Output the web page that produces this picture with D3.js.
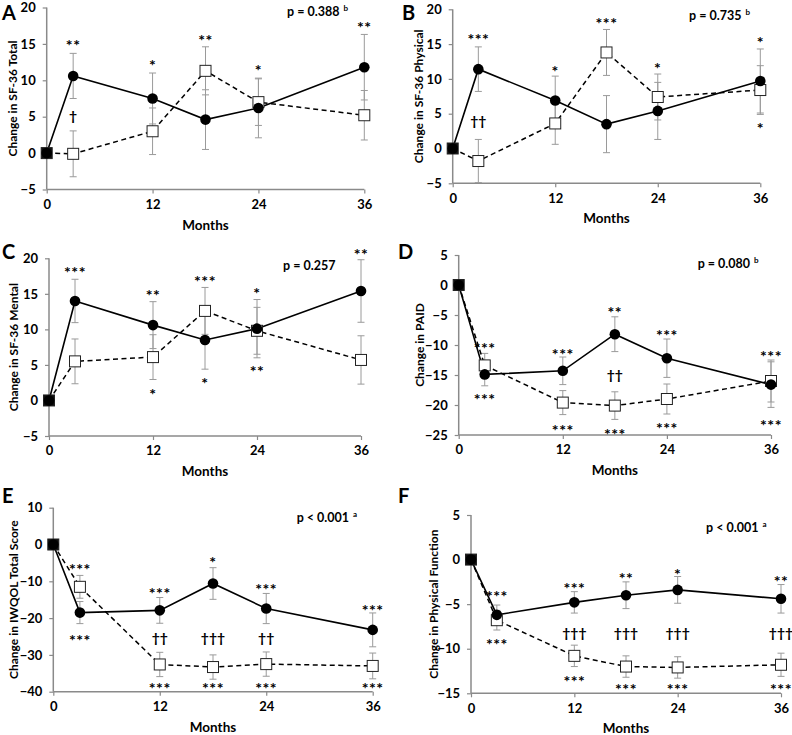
<!DOCTYPE html>
<html><head><meta charset="utf-8">
<script src="https://cdn.jsdelivr.net/npm/d3@7"></script>
<style>
html,body{margin:0;padding:0;background:#fff;}
svg{display:block;}
text{font-family:Lato,"Open Sans",sans-serif;font-weight:bold;fill:#000;}
</style></head>
<body>
<svg id="chart" width="792" height="735"></svg>
<script>
// ---------- DATA ----------
const months = [0, 3, 12, 18, 24, 36];
const xTicks = [0, 12, 24, 36];

const aSolid = [0, 10.6, 7.5, 4.6, 6.2, 11.8];
const aSolidErr = [0, 3.1, 3.5, 4.1, 4.1, 4.5];
const aDashed = [0, -0.1, 3.0, 11.3, 7.0, 5.2];
const aDashedErr = [0, 3.15, 3.2, 3.3, 3.2, 3.4];
const aTicks = [-5, 0, 5, 10, 15, 20];
const aNotes = [[3, 15.3, "**"], [3, 5, "†"], [12, 12.5, "*"], [18, 16, "**"], [24, 11.8, "*"], [36, 17.7, "**"]];

const bSolid = [0, 11.4, 6.9, 3.5, 5.4, 9.7];
const bSolidErr = [0, 3.2, 3.5, 4.1, 4.1, 4.6];
const bDashed = [0, -1.8, 3.6, 13.8, 7.4, 8.4];
const bDashedErr = [0, 3.1, 3.0, 3.3, 3.3, 3.5];
const bTicks = [-5, 0, 5, 10, 15, 20];
const bNotes = [[3, 16.2, "***"], [3, 3.9, "††"], [12, 11.5, "*"], [18, 18.4, "***"], [24, 12, "*"], [36, 15.7, "*"], [36, 3.4, "*"]];

const cSolid = [0, 14.0, 10.6, 8.5, 10.1, 15.4];
const cSolidErr = [0, 3.05, 3.3, 4.1, 4.1, 4.4];
const cDashed = [0, 5.5, 6.1, 12.6, 9.8, 5.7];
const cDashedErr = [0, 3.15, 3.15, 3.3, 3.3, 3.4];
const cTicks = [-5, 0, 5, 10, 15, 20];
const cNotes = [[3, 18.5, "***"], [12, 15.2, "**"], [12, 1.4, "*"], [18, 17.2, "***"], [18, 2.9, "*"], [24, 15.6, "*"], [24, 4.5, "**"], [36, 21, "**"]];

const dSolid = [0, -14.9, -14.3, -8.2, -12.2, -16.6];
const dSolidErr = [0, 1.9, 2.3, 2.9, 3.2, 3.8];
const dDashed = [0, -13.4, -19.6, -20.1, -19.0, -16.0];
const dDashedErr = [0, 2.0, 2.0, 2.3, 2.5, 3.5];
const dTicks = [-25, -20, -15, -10, -5, 0, 5];
const dNotes = [[3, -10, "***"], [3, -18.5, "***"], [12, -11, "***"], [12, -23.7, "***"], [18, -4, "**"], [18, -15, "††"], [18, -24.3, "***"], [24, -7.9, "***"], [24, -23.3, "***"], [36, -11.3, "***"], [36, -22.8, "***"]];

const eSolid = [0, -18.5, -17.9, -10.6, -17.4, -23.2];
const eSolidErr = [0, 3.0, 3.5, 4.3, 4.1, 4.6];
const eDashed = [0, -11.5, -32.6, -33.3, -32.5, -33.0];
const eDashedErr = [0, 3.1, 3.3, 3.3, 3.3, 3.5];
const eTicks = [-40, -30, -20, -10, 0, 10];
const eNotes = [[3, -5.8, "***"], [3, -25, "***"], [12, -12.4, "***"], [12, -25.5, "††"], [12, -38.2, "***"], [18, -3.9, "*"], [18, -25.5, "†††"], [18, -38.2, "***"], [24, -11.2, "***"], [24, -25.5, "††"], [24, -38.2, "***"], [36, -16.9, "***"], [36, -38.2, "***"]];

const fSolid = [0, -6.2, -4.8, -4.0, -3.4, -4.4];
const fSolidErr = [0, 1.1, 1.2, 1.5, 1.5, 1.6];
const fDashed = [0, -6.8, -10.8, -12.0, -12.1, -11.8];
const fDashedErr = [0, 1.1, 1.2, 1.2, 1.2, 1.3];
const fTicks = [-15, -10, -5, 0, 5];
const fNotes = [[3, -3.7, "***"], [3, -9.1, "***"], [12, -2.8, "***"], [12, -8.3, "†††"], [12, -13.3, "***"], [18, -1.7, "**"], [18, -8.3, "†††"], [18, -14.2, "***"], [24, -1.3, "*"], [24, -8.3, "†††"], [24, -14.2, "***"], [36, -2.1, "**"], [36, -8.3, "†††"], [36, -14.2, "***"]];

const panelLetters = ["A", "B", "C", "D", "E", "F"];
const yTitles = ["Change in SF-36 Total", "Change in SF-36 Physical", "Change in SF-36 Mental", "Change in PAID", "Change in IWQOL Total Score", "Change in Physical Function"];
const pTexts = ["p = 0.388", "p = 0.735", "p = 0.257", "p = 0.080", "p < 0.001", "p < 0.001"];
const pSups = ["b", "b", "", "b", "a", "a"];
const xTitle = "Months";

// ---------- LAYOUT ----------
const layout = [
  {x0: 46.7, x1: 364.3, yTop: 7.5, yBot: 189.5, letter: [2, 20], ytx: 12, p: [287, 16]},
  {x0: 452.7, x1: 760.3, yTop: 9.3, yBot: 183.3, letter: [402, 20], ytx: 418, p: [689, 19.5]},
  {x0: 49, x1: 361, yTop: 258.3, yBot: 436, letter: [2, 259], ytx: 13, p: [283, 270]},
  {x0: 458.7, x1: 771, yTop: 255, yBot: 435, letter: [398, 259], ytx: 419, p: [697.7, 267.5]},
  {x0: 53.3, x1: 372.7, yTop: 507.7, yBot: 691.7, letter: [2, 503], ytx: 13, p: [296.7, 522]},
  {x0: 471, x1: 781, yTop: 515, yBot: 693.3, letter: [398, 503], ytx: 433, p: [706, 532]}
];

const panels = [
  {s: aSolid, se: aSolidErr, d: aDashed, de: aDashedErr, ticks: aTicks, notes: aNotes},
  {s: bSolid, se: bSolidErr, d: bDashed, de: bDashedErr, ticks: bTicks, notes: bNotes},
  {s: cSolid, se: cSolidErr, d: cDashed, de: cDashedErr, ticks: cTicks, notes: cNotes},
  {s: dSolid, se: dSolidErr, d: dDashed, de: dDashedErr, ticks: dTicks, notes: dNotes},
  {s: eSolid, se: eSolidErr, d: eDashed, de: eDashedErr, ticks: eTicks, notes: eNotes},
  {s: fSolid, se: fSolidErr, d: fDashed, de: fDashedErr, ticks: fTicks, notes: fNotes}
];

const svg = d3.select("#chart");
const axisColor = "#8a8a8a";
const errColor = "#9a9a9a";

panels.forEach((P, i) => {
  const L = layout[i];
  const g = svg.append("g");
  const x = d3.scaleLinear().domain([0, 36]).range([L.x0, L.x1]);
  const y = d3.scaleLinear().domain([d3.min(P.ticks), d3.max(P.ticks)]).range([L.yBot, L.yTop]);

  // axes
  const yAxis = g.append("g").attr("transform", `translate(${L.x0},0)`)
    .call(d3.axisLeft(y).tickValues(P.ticks).tickSize(4).tickPadding(7).tickFormat(d3.format("d")));
  const xAxis = g.append("g").attr("transform", `translate(0,${L.yBot})`)
    .call(d3.axisBottom(x).tickValues(xTicks).tickSize(4).tickPadding(6).tickFormat(d3.format("d")));
  [yAxis, xAxis].forEach(ax => {
    ax.select(".domain").attr("stroke", axisColor).attr("stroke-width", 1.5);
    ax.selectAll(".tick line").attr("stroke", axisColor).attr("stroke-width", 1.2);
    ax.selectAll(".tick text").attr("font-size", 13).attr("font-family", "Lato, sans-serif").attr("font-weight", "bold").attr("fill", "#000");
  });
  xAxis.select(".domain").attr("d", `M${L.x0},0H${L.x1}`);
  yAxis.select(".domain").attr("d", `M0,${L.yBot}V${L.yTop}`);

  // axis titles
  g.append("text").attr("x", (L.x0 + L.x1) / 2).attr("y", L.yBot + 40)
    .attr("text-anchor", "middle").attr("font-size", 13.5).text(xTitle);
  g.append("text").attr("transform", `translate(${L.ytx},${(L.yTop + L.yBot) / 2}) rotate(-90)`)
    .attr("text-anchor", "middle").attr("dominant-baseline", "central").attr("font-size", 12).text(yTitles[i]);

  // panel letter
  g.append("text").attr("x", L.letter[0]).attr("y", L.letter[1])
    .attr("font-family", "Liberation Sans, Arial, sans-serif").attr("font-size", 20).attr("font-weight", "bold")
    .text(panelLetters[i]);

  // p value
  const pt = g.append("text").attr("x", L.p[0]).attr("y", L.p[1]).attr("font-size", 12.5).text(pTexts[i]);
  if (pSups[i]) pt.append("tspan").attr("dx", 4).attr("dy", -5).attr("font-size", 8).text(pSups[i]);

  // error bars
  const errs = [];
  months.forEach((m, k) => {
    if (k === 0) return;
    errs.push({m, v: P.s[k], e: P.se[k]});
    errs.push({m, v: P.d[k], e: P.de[k]});
  });
  const eg = g.append("g").attr("stroke", errColor).attr("stroke-width", 1);
  errs.forEach(o => {
    const lo = Math.max(o.v - o.e, d3.min(P.ticks));
    const hi = o.v + o.e;
    const cx = x(o.m);
    eg.append("line").attr("x1", cx).attr("x2", cx).attr("y1", y(lo)).attr("y2", y(hi));
    eg.append("line").attr("x1", cx - 3.5).attr("x2", cx + 3.5).attr("y1", y(hi)).attr("y2", y(hi));
    if (o.v - o.e >= d3.min(P.ticks))
      eg.append("line").attr("x1", cx - 3.5).attr("x2", cx + 3.5).attr("y1", y(lo)).attr("y2", y(lo));
  });

  // lines
  const line = d3.line().x((d, k) => x(months[k])).y(d => y(d));
  g.append("path").datum(P.d).attr("d", line).attr("fill", "none").attr("stroke", "#000")
    .attr("stroke-width", 1.5).attr("stroke-dasharray", "5,3.5");
  g.append("path").datum(P.s).attr("d", line).attr("fill", "none").attr("stroke", "#000")
    .attr("stroke-width", 1.6);

  // markers
  g.append("g").selectAll("rect").data(P.d).join("rect")
    .attr("x", (d, k) => x(months[k]) - 5.5).attr("y", d => y(d) - 5.5)
    .attr("width", 11).attr("height", 11)
    .attr("fill", (d, k) => k === 0 ? "#111" : "#fff").attr("stroke", "#222").attr("stroke-width", 1);
  g.append("g").selectAll("circle").data(P.s).join("circle")
    .attr("cx", (d, k) => x(months[k])).attr("cy", d => y(d)).attr("r", 5.3).attr("fill", "#000");

  // significance notes
  g.append("g").selectAll("text").data(P.notes).join("text")
    .attr("x", d => x(d[0])).attr("y", d => y(d[1]) + (d[2].includes("*") ? 9 : 4.5))
    .attr("text-anchor", "middle")
    .attr("font-family", d => d[2].includes("*") ? "DejaVu Sans, sans-serif" : "Lato, sans-serif")
    .attr("font-size", d => d[2].includes("*") ? 16 : 14)
    .attr("letter-spacing", d => d[2].includes("*") ? 0.5 : 0)
    .text(d => d[2]);
});
</script>
</body></html>
